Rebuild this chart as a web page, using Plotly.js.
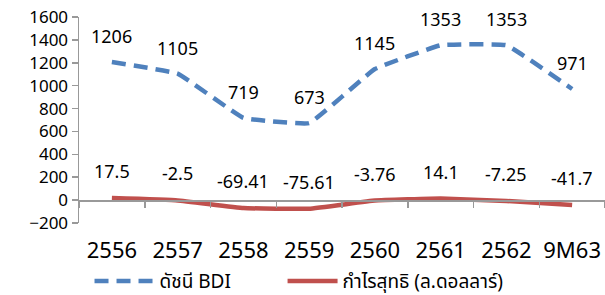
<!DOCTYPE html>
<html><head><meta charset="utf-8">
<script src="https://cdn.plot.ly/plotly-3.0.1.min.js"></script>
<style>body{margin:0;background:#fff}#c{width:605px;height:295px}</style>
</head><body><div id="c"></div>
<script>
const categories = ['2556','2557','2558','2559','2560','2561','2562','9M63'];
const bdi = [1206,1105,719,673,1145,1353,1353,971];
const profit = [17.5,-2.5,-69.41,-75.61,-3.76,14.1,-7.25,-41.7];
const bdiName = 'ดัชนี BDI';
const profitName = 'กำไรสุทธิ (ล.ดอลลาร์)';
const yTicks = [-200,0,200,400,600,800,1000,1200,1400,1600];

const FONT = '"Noto Sans", "Noto Sans Thai", sans-serif';

const traces = [
  {x: categories, y: bdi, name: bdiName, mode: 'lines', type: 'scatter', legend: 'legend',
   line: {color: '#4F81BD', width: 4.5, dash: '14px,8px', shape: 'spline', smoothing: 0.25}},
  {x: categories, y: profit, name: profitName, mode: 'lines', type: 'scatter', legend: 'legend2',
   line: {color: '#C0504D', width: 4.5, shape: 'spline', smoothing: 0.25}},
  {x: categories, y: categories.map(() => 0), xaxis: 'x2', mode: 'none', type: 'scatter',
   showlegend: false, hoverinfo: 'skip'}
];

const annotations = [];
categories.forEach((c, i) => {
  annotations.push({xref: 'x', yref: 'y', x: i, y: bdi[i], text: String(bdi[i]), showarrow: false, yshift: 26,
    font: {family: FONT, size: 18, color: '#000'}});
  annotations.push({xref: 'x', yref: 'y', x: i, y: profit[i], text: String(profit[i]), showarrow: false, yshift: 27,
    font: {family: FONT, size: 18, color: '#000'}});
});

const legFont = {family: FONT, size: 19, color: '#000'};
const layout = {
  width: 605, height: 295,
  margin: {l: 79, r: 0, t: 17, b: 72, autoexpand: false},
  paper_bgcolor: '#fff', plot_bgcolor: '#fff',
  font: {family: FONT, size: 18, color: '#000'},
  showlegend: true,
  legend: {orientation: 'h', x: 0.02, xanchor: 'left', y: -0.19, yanchor: 'top',
    font: legFont, itemwidth: 60, bgcolor: 'rgba(0,0,0,0)'},
  legend2: {orientation: 'h', x: 0.387, xanchor: 'left', y: -0.19, yanchor: 'top',
    font: legFont, itemwidth: 50, bgcolor: 'rgba(0,0,0,0)'},
  xaxis: {type: 'category', categoryarray: categories, categoryorder: 'array',
    range: [-0.5, 7.5], showgrid: false, showline: false, zeroline: false,
    ticks: '', ticklabelstandoff: 12, tickfont: {family: FONT, size: 22, color: '#000'}},
  xaxis2: {type: 'category', categoryarray: categories, categoryorder: 'array',
    overlaying: 'x', anchor: 'free', position: 200/1800, range: [-0.5, 7.5],
    showgrid: false, showline: true, linecolor: '#999', linewidth: 1.5, zeroline: false,
    ticks: 'outside', tickson: 'boundaries', ticklen: 6, tickcolor: '#999', tickwidth: 1.5,
    showticklabels: false},
  yaxis: {range: [-200, 1600], tickvals: yTicks, showgrid: false, zeroline: false,
    showline: true, linecolor: '#999', linewidth: 1.5, ticks: 'outside', ticklen: 6,
    tickcolor: '#999', tickwidth: 1.5, tickfont: {family: FONT, size: 17, color: '#000'}},
  annotations: annotations
};
Plotly.newPlot('c', traces, layout, {displayModeBar: false, staticPlot: true});
</script></body></html>
